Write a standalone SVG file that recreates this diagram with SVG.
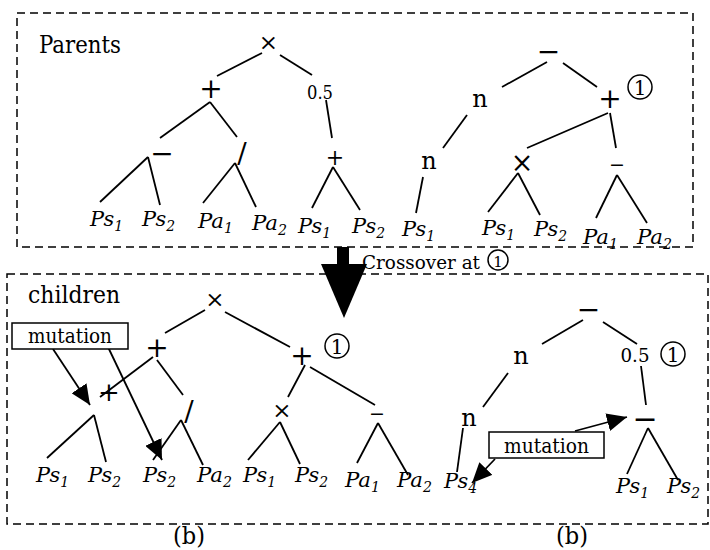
<svg xmlns="http://www.w3.org/2000/svg" width="710" height="550" viewBox="0 0 710 550">
  <style>
    text { font-family: 'DejaVu Serif', 'Liberation Serif', serif; fill: #000; }
    .frame { fill: none; stroke: #000; stroke-width: 1.5; stroke-dasharray: 8 5; }
    .edge { stroke: #000; stroke-width: 1.8; fill: none; }
    .title { font-size: 25px; }
    .leaf { font-size: 21px; font-style: italic; }
    .sub { font-size: 14px; }
    .op { text-anchor: middle; dominant-baseline: central; }
    .num { font-size: 19px; text-anchor: middle; }
    .tag { fill: #fff; stroke: #000; stroke-width: 1.5; }
    .ring { fill: #fff; stroke: #000; stroke-width: 1.5; }
    .ringtxt { font-size: 20px; text-anchor: middle; dominant-baseline: central; }
    .lbl { font-size: 20px; text-anchor: middle; }
  </style>
  <defs>
    <marker id="arrow" viewBox="0 0 20 18" refX="20" refY="9" markerWidth="20" markerHeight="18" orient="auto" markerUnits="userSpaceOnUse">
      <path d="M0,0 L20,9 L0,18 z" fill="#000"/>
    </marker>
  </defs>

  <!-- frames -->
  <rect class="frame" x="17" y="13" width="676" height="234"/>
  <rect class="frame" x="7" y="274" width="701" height="250"/>

  <!-- crossover arrow -->
  <g id="crossover">
    <rect x="337" y="247" width="12" height="20" fill="#000"/>
    <polygon points="321,264 367,264 344,318" fill="#000"/>
    <text x="362" y="269" style="font-size:19px" textLength="118" lengthAdjust="spacingAndGlyphs">Crossover at</text>
    <circle class="ring" cx="498" cy="260" r="10"/>
    <text class="ringtxt" x="498" y="262" style="font-size:15px">1</text>
  </g>

  <text class="title" x="39" y="53" textLength="82" lengthAdjust="spacingAndGlyphs">Parents</text>
  <text class="title" x="28" y="303" textLength="92" lengthAdjust="spacingAndGlyphs">children</text>

  <!-- connectors -->
  <g id="connectors" class="edge">
    <!-- parent 1 -->
    <line x1="262" y1="53" x2="217" y2="76"/>
    <line x1="280" y1="55" x2="312" y2="75"/>
    <line x1="210" y1="102" x2="160" y2="138"/>
    <line x1="210" y1="102" x2="237" y2="137"/>
    <line x1="326" y1="100" x2="332" y2="138"/>
    <line x1="148" y1="157" x2="100" y2="202"/>
    <line x1="148" y1="157" x2="160" y2="205"/>
    <line x1="235" y1="163" x2="203" y2="203"/>
    <line x1="235" y1="163" x2="256" y2="207"/>
    <line x1="333" y1="167" x2="312" y2="208"/>
    <line x1="333" y1="167" x2="360" y2="210"/>
    <!-- parent 2 -->
    <line x1="547" y1="62" x2="502" y2="87"/>
    <line x1="563" y1="63" x2="597" y2="87"/>
    <line x1="467" y1="115" x2="443" y2="148"/>
    <line x1="423" y1="177" x2="416" y2="213"/>
    <line x1="608" y1="113" x2="527" y2="148"/>
    <line x1="610" y1="113" x2="616" y2="148"/>
    <line x1="518" y1="173" x2="488" y2="212"/>
    <line x1="518" y1="173" x2="540" y2="215"/>
    <line x1="617" y1="175" x2="596" y2="218"/>
    <line x1="617" y1="175" x2="647" y2="223"/>
    <!-- child 1 -->
    <line x1="205" y1="310" x2="165" y2="333"/>
    <line x1="225" y1="312" x2="290" y2="347"/>
    <line x1="153" y1="357" x2="100" y2="397"/>
    <line x1="157" y1="360" x2="183" y2="395"/>
    <line x1="94" y1="415" x2="47" y2="458"/>
    <line x1="94" y1="415" x2="106" y2="462"/>
    <line x1="181" y1="420" x2="153" y2="460"/>
    <line x1="181" y1="420" x2="203" y2="465"/>
    <line x1="305" y1="365" x2="288" y2="397"/>
    <line x1="310" y1="367" x2="375" y2="405"/>
    <line x1="280" y1="422" x2="248" y2="460"/>
    <line x1="280" y1="422" x2="300" y2="464"/>
    <line x1="378" y1="423" x2="357" y2="463"/>
    <line x1="378" y1="423" x2="408" y2="475"/>
    <!-- child 2 -->
    <line x1="583" y1="320" x2="542" y2="344"/>
    <line x1="603" y1="322" x2="637" y2="344"/>
    <line x1="508" y1="373" x2="483" y2="407"/>
    <line x1="463" y1="428" x2="457" y2="472"/>
    <line x1="641" y1="366" x2="646" y2="405"/>
    <line x1="648" y1="428" x2="627" y2="474"/>
    <line x1="648" y1="428" x2="678" y2="480"/>
    <!-- mutation pointers -->
    <line x1="53" y1="349" x2="90" y2="405" marker-end="url(#arrow)"/>
    <line x1="108" y1="347" x2="162" y2="460" marker-end="url(#arrow)"/>
    <line x1="575" y1="431" x2="627" y2="417" marker-end="url(#arrow)"/>
    <line x1="495" y1="459" x2="472" y2="483" marker-end="url(#arrow)"/>
  </g>

  <!-- parent 1 nodes -->
  <g id="p1-times"><text class="op" x="268.5" y="41.5" style="font-size:23px">×</text></g>
  <g id="p1-plus"><text class="op" x="211" y="88" style="font-size:28px">+</text></g>
  <g id="p1-half"><text class="num" x="320" y="99" textLength="26" lengthAdjust="spacingAndGlyphs">0.5</text></g>
  <g id="p1-minus"><text class="op" x="162" y="153" style="font-size:28px">−</text></g>
  <g id="p1-div"><text class="op" x="242" y="153" style="font-size:28px">/</text></g>
  <g id="p1-plus2"><text class="op" x="335" y="157" style="font-size:22px">+</text></g>
  <g id="p1-leaves">
    <text class="leaf" x="90" y="226" textLength="33" lengthAdjust="spacingAndGlyphs">Ps<tspan class="sub" dy="5">1</tspan></text>
    <text class="leaf" x="142" y="226" textLength="33" lengthAdjust="spacingAndGlyphs">Ps<tspan class="sub" dy="5">2</tspan></text>
    <text class="leaf" x="198" y="228" textLength="35" lengthAdjust="spacingAndGlyphs">Pa<tspan class="sub" dy="5">1</tspan></text>
    <text class="leaf" x="252" y="230" textLength="35" lengthAdjust="spacingAndGlyphs">Pa<tspan class="sub" dy="5">2</tspan></text>
    <text class="leaf" x="298" y="233" textLength="33" lengthAdjust="spacingAndGlyphs">Ps<tspan class="sub" dy="5">1</tspan></text>
    <text class="leaf" x="352" y="233" textLength="33" lengthAdjust="spacingAndGlyphs">Ps<tspan class="sub" dy="5">2</tspan></text>
  </g>

  <!-- parent 2 nodes -->
  <g id="p2-minus"><text class="op" x="548.5" y="51" style="font-size:28px">−</text></g>
  <g id="p2-n1"><text class="op" x="480" y="99" style="font-size:24px">n</text></g>
  <g id="p2-plus">
    <text class="op" x="610" y="98" style="font-size:28px">+</text>
    <circle class="ring" cx="640" cy="87" r="12"/>
    <text class="ringtxt" x="640" y="88">1</text>
  </g>
  <g id="p2-n2"><text class="op" x="429" y="161" style="font-size:24px">n</text></g>
  <g id="p2-times"><text class="op" x="522" y="162" style="font-size:27px">×</text></g>
  <g id="p2-minus2"><text class="op" x="617" y="164" style="font-size:19px">−</text></g>
  <g id="p2-leaves">
    <text class="leaf" x="402" y="236" textLength="33" lengthAdjust="spacingAndGlyphs">Ps<tspan class="sub" dy="5">1</tspan></text>
    <text class="leaf" x="482" y="235" textLength="33" lengthAdjust="spacingAndGlyphs">Ps<tspan class="sub" dy="5">1</tspan></text>
    <text class="leaf" x="534" y="236" textLength="33" lengthAdjust="spacingAndGlyphs">Ps<tspan class="sub" dy="5">2</tspan></text>
    <text class="leaf" x="583" y="244" textLength="35" lengthAdjust="spacingAndGlyphs">Pa<tspan class="sub" dy="5">1</tspan></text>
    <text class="leaf" x="637" y="244" textLength="35" lengthAdjust="spacingAndGlyphs">Pa<tspan class="sub" dy="5">2</tspan></text>
  </g>

  <!-- child 1 nodes -->
  <g id="c1-times"><text class="op" x="215" y="299" style="font-size:23px">×</text></g>
  <g id="c1-plus"><text class="op" x="157" y="347" style="font-size:28px">+</text></g>
  <g id="c1-plus-swap">
    <text class="op" x="302" y="355" style="font-size:28px">+</text>
    <circle class="ring" cx="337" cy="346" r="12"/>
    <text class="ringtxt" x="337" y="347">1</text>
  </g>
  <g id="c1-plus-mut"><text class="op" x="109" y="392" style="font-size:26px">+</text></g>
  <g id="c1-div"><text class="op" x="189" y="411" style="font-size:28px">/</text></g>
  <g id="c1-times2"><text class="op" x="282" y="410" style="font-size:23px">×</text></g>
  <g id="c1-minus"><text class="op" x="377" y="413" style="font-size:19px">−</text></g>
  <g id="c1-mutation">
    <rect class="tag" x="12" y="323" width="116" height="26"/>
    <text class="lbl" x="70" y="343" textLength="84" lengthAdjust="spacingAndGlyphs">mutation</text>
  </g>
  <g id="c1-leaves">
    <text class="leaf" x="36" y="482" textLength="33" lengthAdjust="spacingAndGlyphs">Ps<tspan class="sub" dy="5">1</tspan></text>
    <text class="leaf" x="88" y="482" textLength="33" lengthAdjust="spacingAndGlyphs">Ps<tspan class="sub" dy="5">2</tspan></text>
    <text class="leaf" x="143" y="482" textLength="33" lengthAdjust="spacingAndGlyphs">Ps<tspan class="sub" dy="5">2</tspan></text>
    <text class="leaf" x="197" y="482" textLength="35" lengthAdjust="spacingAndGlyphs">Pa<tspan class="sub" dy="5">2</tspan></text>
    <text class="leaf" x="243" y="482" textLength="33" lengthAdjust="spacingAndGlyphs">Ps<tspan class="sub" dy="5">1</tspan></text>
    <text class="leaf" x="295" y="482" textLength="33" lengthAdjust="spacingAndGlyphs">Ps<tspan class="sub" dy="5">2</tspan></text>
    <text class="leaf" x="345" y="487" textLength="35" lengthAdjust="spacingAndGlyphs">Pa<tspan class="sub" dy="5">1</tspan></text>
    <text class="leaf" x="397" y="487" textLength="35" lengthAdjust="spacingAndGlyphs">Pa<tspan class="sub" dy="5">2</tspan></text>
  </g>
  <g id="c1-caption"><text x="189" y="544" style="font-size:24px" text-anchor="middle" textLength="32" lengthAdjust="spacingAndGlyphs">(b)</text></g>

  <!-- child 2 nodes -->
  <g id="c2-minus"><text class="op" x="588.5" y="309" style="font-size:28px">−</text></g>
  <g id="c2-n1"><text class="op" x="521" y="356" style="font-size:24px">n</text></g>
  <g id="c2-half">
    <text class="num" x="635" y="362" textLength="29" lengthAdjust="spacingAndGlyphs">0.5</text>
    <circle class="ring" cx="673" cy="354" r="12"/>
    <text class="ringtxt" x="673" y="355">1</text>
  </g>
  <g id="c2-n2"><text class="op" x="469" y="418" style="font-size:24px">n</text></g>
  <g id="c2-minus2"><text class="op" x="645" y="418" style="font-size:30px">−</text></g>
  <g id="c2-mutation">
    <rect class="tag" x="489" y="432" width="115" height="26"/>
    <text class="lbl" x="546.5" y="453" textLength="85" lengthAdjust="spacingAndGlyphs">mutation</text>
  </g>
  <g id="c2-leaves">
    <text class="leaf" x="444" y="488" textLength="33" lengthAdjust="spacingAndGlyphs">Ps<tspan class="sub" dy="5">4</tspan></text>
    <text class="leaf" x="616" y="493" textLength="33" lengthAdjust="spacingAndGlyphs">Ps<tspan class="sub" dy="5">1</tspan></text>
    <text class="leaf" x="667" y="493" textLength="33" lengthAdjust="spacingAndGlyphs">Ps<tspan class="sub" dy="5">2</tspan></text>
  </g>
  <g id="c2-caption"><text x="572" y="544" style="font-size:24px" text-anchor="middle" textLength="32" lengthAdjust="spacingAndGlyphs">(b)</text></g>
</svg>
